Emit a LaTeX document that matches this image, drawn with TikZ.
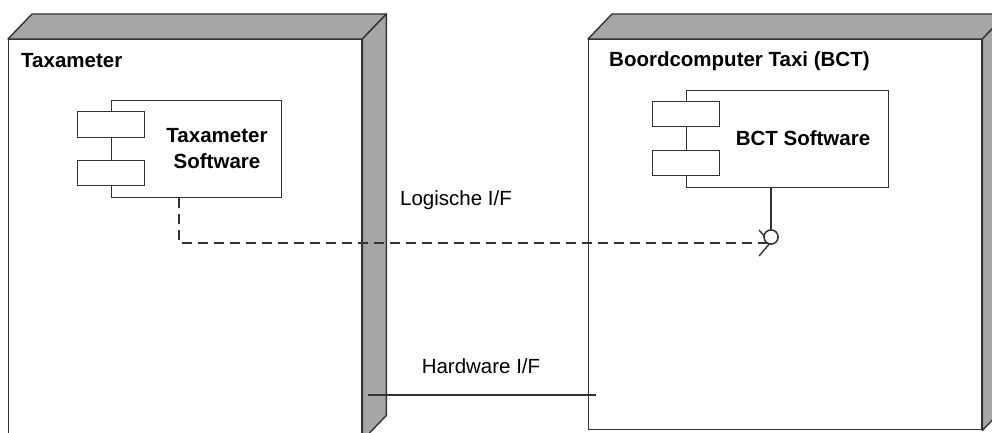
\documentclass[tikz,border=0pt]{standalone}
\usepackage{fontspec}
\setmainfont{Liberation Sans}
\usetikzlibrary{calc,arrows.meta}
\definecolor{edge}{HTML}{333333}
\definecolor{sideface}{HTML}{A6A6A6}
\tikzset{
  x=1pt, y=-1pt,
  frontface/.style={draw=edge, line width=1.4pt, fill=white, rectangle, anchor=north west, inner sep=0pt},
  depthface/.style={draw=edge, line width=1.4pt, fill=sideface, line join=round},
  compbox/.style={draw=edge, line width=1pt, fill=white, rectangle, anchor=north west, inner sep=0pt},
  portbox/.style={draw=edge, line width=1pt, fill=white, rectangle, minimum width=67pt, minimum height=25pt, inner sep=0pt},
  nodetitle/.style={font=\fontsize{20.5}{24}\selectfont\bfseries, anchor=base west, inner sep=0pt},
  comptitle/.style={font=\fontsize{20.5}{26}\selectfont\bfseries, align=center, inner sep=0pt},
  iflabel/.style={font=\fontsize{20.5}{24}\selectfont, inner sep=0pt},
  lollipop/.style={draw=edge, line width=1.4pt, fill=white, circle, minimum size=14pt, inner sep=0pt},
  dep/.style={draw=edge, line width=1.4pt, dash pattern=on 10pt off 6pt,
    -{Straight Barb[length=11pt,width=26pt,line width=1.4pt]}},
  wire/.style={draw=edge, line width=1.4pt},
}
\newcommand{\threedbox}[1]{%
  \path[depthface] (#1.north west) -- ++(24,-25) -- ($(#1.north east)+(24,-25)$)
    -- (#1.north east) -- cycle;
  \path[depthface] (#1.north east) -- ++(24,-25) -- ($(#1.south east)+(24,-25)$)
    -- (#1.south east) -- cycle;}
\begin{document}
\begin{tikzpicture}
\useasboundingbox (0,0) rectangle (992,433);
\clip (0,0) rectangle (992,433);

% deployment nodes
\node[frontface, minimum width=353pt, minimum height=400pt] (taxi) at (8,39) {};
\threedbox{taxi}
\node[frontface, minimum width=393pt, minimum height=390pt] (bct) at (588,39) {};
\threedbox{bct}
\node[nodetitle] (taxititle) at (21,68) {Taxameter};
\node[nodetitle] (bcttitle) at (609,67) {Boordcomputer Taxi (BCT)};

% Taxameter software component
\node[compbox, minimum width=170pt, minimum height=97pt] (tsw) at (111,100) {};
\node[portbox] (tswp1) at (110.5,124.5) {};
\node[portbox] (tswp2) at (110.5,173) {};
\node[comptitle] (tswtext) at (217,149) {Taxameter\\Software};

% BCT software component
\node[compbox, minimum width=202pt, minimum height=97pt] (bsw) at (686,90) {};
\node[portbox] (bswp1) at (685.5,114) {};
\node[portbox] (bswp2) at (685.5,163) {};
\node[comptitle, anchor=base] (bswtext) at (803,145) {BCT Software};

% provided interface of the BCT software
\node[lollipop] (iface) at (771,237) {};
\coordinate (tswout) at ($(tsw.south west)+(68,0)$);
\coordinate (tip) at (771,243);
\draw[dep] (tswout) |- (tip);
\draw[wire] (iface.north |- bsw.south) -- (iface.north);
\node[lollipop] (iface2) at (iface) {};

% hardware link
\coordinate (hwl) at (368,395);
\coordinate (hwr) at (596,395);
\draw[wire] (hwl) -- (hwr);

% interface labels
\node[iflabel] (loglabel) at (456,200) {Logische I/F};
\node[iflabel] (hwlabel) at (481,366) {Hardware I/F};
\end{tikzpicture}
\end{document}
